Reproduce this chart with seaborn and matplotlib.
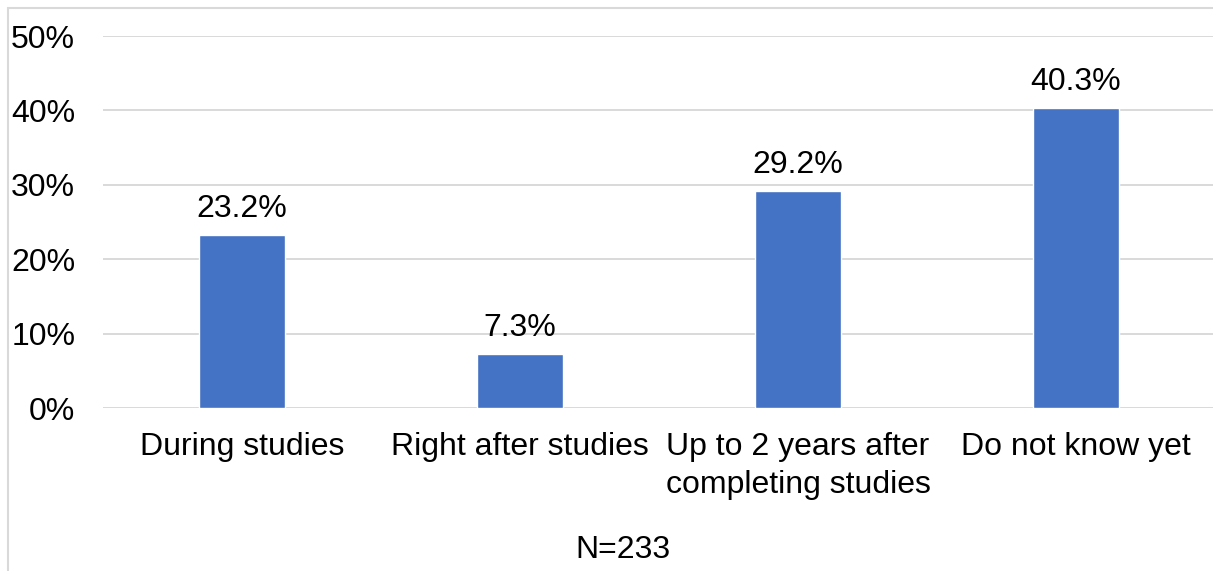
import pandas as pd
import matplotlib.pyplot as plt
import seaborn as sns
from matplotlib.lines import Line2D

# data
categories = ['During studies', 'Right after studies',
              'Up to 2 years after\ncompleting studies', 'Do not know yet']
shares = [23.2, 7.3, 29.2, 40.3]
y_ticks = [0, 10, 20, 30, 40, 50]
y_tick_labels = ['0%', '10%', '20%', '30%', '40%', '50%']
note = 'N=233'

df = pd.DataFrame({'category': categories, 'share': shares})

sns.set_style('white')
plt.rcParams['font.family'] = ['Liberation Sans', 'DejaVu Sans']
plt.rcParams['text.color'] = 'black'
plt.rcParams['xtick.color'] = 'black'
plt.rcParams['ytick.color'] = 'black'

fig = plt.figure(figsize=(12.13, 5.71), dpi=100)
ax = fig.add_axes([103 / 1213, 163 / 571, 1112 / 1213, 372 / 571])

sns.barplot(data=df, x='category', y='share', color='#4472C4',
            width=0.31, saturation=1, ax=ax, zorder=3)

ax.set_ylim(0, 50)
ax.set_xlim(-0.5, 3.5)
ax.set_yticks(y_ticks)
ax.set_yticklabels(y_tick_labels)
ax.yaxis.grid(True, color='#d9d9d9', linewidth=1.4, zorder=0)
ax.set_axisbelow(True)
for s in ax.spines.values():
    s.set_visible(False)
ax.tick_params(axis='y', length=0, pad=20, labelsize=23, labelcolor='black')
ax.tick_params(axis='x', length=0, pad=17, labelsize=23, labelcolor='black')
ax.set_xlabel('')
ax.set_ylabel('')
for lab in ax.get_xticklabels():
    lab.set_linespacing(1.35)

# value labels
for i, v in enumerate(shares):
    ax.annotate(f'{v:.1f}%', (i, v), xytext=(0, 8), textcoords='offset points',
                ha='center', va='bottom', fontsize=23, color='black')

fig.text(623 / 1213, 1 - 550 / 571, note, ha='center', va='center',
         fontsize=23, color='black')

# chart frame (left and top edges visible)
fig.add_artist(Line2D([7.5 / 1213, 7.5 / 1213], [0, 1 - 7.5 / 571],
                      transform=fig.transFigure, color='#d9d9d9', lw=1.5))
fig.add_artist(Line2D([7.5 / 1213, 1], [1 - 7.5 / 571, 1 - 7.5 / 571],
                      transform=fig.transFigure, color='#d9d9d9', lw=1.5))

fig.savefig('out.png', dpi=100)
